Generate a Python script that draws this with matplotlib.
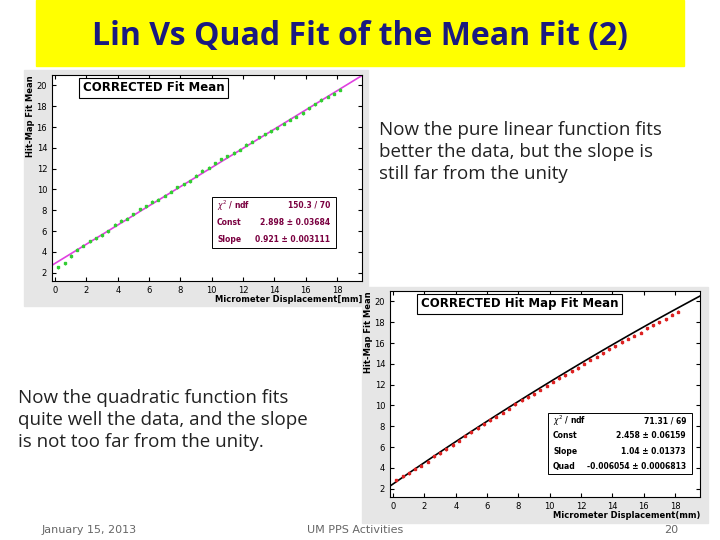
import matplotlib
matplotlib.use("Agg")
import matplotlib.pyplot as plt
import numpy as np
from matplotlib.patches import Rectangle

W, H = 720, 540
x_pts = [0.2,0.6,1.0,1.4,1.8,2.2,2.6,3.0,3.4,3.8,4.2,4.6,5.0,5.4,5.8,6.2,6.6,7.0,7.4,7.8,8.2,8.6,9.0,9.4,9.8,
         10.2,10.6,11.0,11.4,11.8,12.2,12.6,13.0,13.4,13.8,14.2,14.6,15.0,15.4,15.8,16.2,16.6,17.0,17.4,17.8,18.2]
y_lin = [2.5,2.9,3.6,4.2,4.6,5.0,5.3,5.6,6.0,6.6,7.0,7.2,7.6,8.1,8.4,8.8,9.0,9.4,9.8,10.2,10.5,10.8,11.3,11.8,12.1,
         12.5,12.9,13.2,13.5,13.8,14.3,14.6,15.0,15.3,15.6,15.9,16.3,16.7,17.0,17.3,17.8,18.2,18.6,18.9,19.2,19.6]
y_quad = [2.8,3.2,3.5,3.9,4.2,4.6,5.1,5.4,5.8,6.2,6.6,7.1,7.4,7.8,8.2,8.6,8.9,9.3,9.7,10.1,10.5,10.8,11.1,11.5,11.9,
          12.3,12.6,12.9,13.3,13.6,14.0,14.4,14.7,15.0,15.4,15.7,16.1,16.4,16.7,17.0,17.4,17.7,18.0,18.3,18.7,19.0]
lin_const, lin_slope = 2.898, 0.921
q_const, q_slope, q_quad = 2.458, 1.04, -0.006054

fig = plt.figure(figsize=(7.2, 5.4), dpi=100)
def fax(x0, y0, x1, y1, z=0):
    a = fig.add_axes([x0/W, 1-y1/H, (x1-x0)/W, (y1-y0)/H])
    a.set_zorder(z)
    return a

bg = fax(0, 0, W, H); bg.set_xlim(0, W); bg.set_ylim(H, 0); bg.axis('off')
bg.add_patch(Rectangle((36, 0), 648, 66, color='#ffff00'))
bg.text(360, 36, "Lin Vs Quad Fit of the Mean Fit (2)", ha='center', va='center', fontsize=23,
        fontweight='bold', color='#1a1a80', family='Open Sans')
bg.add_patch(Rectangle((24, 70), 344, 236, color='#e6e6e6'))
bg.add_patch(Rectangle((362, 287), 346, 236, color='#e6e6e6'))
bg.text(379, 152, "Now the pure linear function fits\nbetter the data, but the slope is\nstill far from the unity",
        fontsize=13.5, va='center', ha='left', linespacing=1.3, color='#222', family='Open Sans')
bg.text(18, 420, "Now the quadratic function fits\nquite well the data, and the slope\nis not too far from the unity.",
        fontsize=13.5, va='center', ha='left', linespacing=1.3, color='#222', family='Open Sans')
bg.text(42, 530, "January 15, 2013", fontsize=8, color='#666', va='center')
bg.text(355, 530, "UM PPS Activities", fontsize=8, color='#666', va='center', ha='center')
bg.text(678, 530, "20", fontsize=8, color='#666', va='center', ha='right')

def panel(ax, ys, color, lcolor, fx, title, xl, yl):
    ax.set_facecolor('white')
    ax.set_xlim(-0.2, 19.6); ax.set_ylim(1.2, 21)
    xs = np.linspace(-0.2, 19.6, 100)
    ax.plot(xs, fx(xs), color=lcolor, lw=1.2)
    ax.errorbar(x_pts, ys, yerr=0.15, fmt='s', ms=2, color=color, lw=0.6)
    ax.set_xticks(range(0, 19, 2)); ax.set_yticks(range(2, 21, 2))
    ax.tick_params(labelsize=6, length=3, direction='in', top=True, right=True)
    ax.set_xlabel(xl, fontsize=6, fontweight='bold', loc='right', labelpad=0)
    ax.set_ylabel(yl, fontsize=6, fontweight='bold', loc='top', labelpad=1)
    ax.text(0.1, 0.97, title, transform=ax.transAxes, fontsize=8.5, fontweight='bold', va='top',
            bbox=dict(fc='white', ec='black', lw=0.8, boxstyle='square,pad=0.3'))

def statbox(x0, y0, x1, y1, stats, tc):
    ov = fax(0, 0, W, H, z=5); ov.set_xlim(0, W); ov.set_ylim(H, 0); ov.axis('off')
    ov.add_patch(Rectangle((x0, y0), x1-x0, y1-y0, fc='white', ec='black', lw=0.7))
    n = len(stats); dy = (y1-y0)/n
    for i, (a, b) in enumerate(stats):
        yy = y0 + dy*(i+0.5)
        ov.text(x0+5, yy, a, fontsize=5.5, color=tc, va='center', fontweight='bold')
        ov.text(x1-6, yy, b, fontsize=5.5, color=tc, va='center', ha='right', fontweight='bold')

a1 = fax(52, 75, 362, 281, z=1)
panel(a1, y_lin, 'limegreen', '#e040e0', lambda x: lin_const + lin_slope*x, "CORRECTED Fit Mean",
      "Micrometer Displacement[mm]", "Hit-Map Fit Mean")
a2 = fax(390, 291, 700, 497, z=1)
panel(a2, y_quad, '#dd2222', 'black', lambda x: q_const + q_slope*x + q_quad*x**2, "CORRECTED Hit Map Fit Mean",
      "Micrometer Displacement(mm)", "Hit-Map Fit Mean")
statbox(212, 197, 336, 248, [("$\\chi^2$ / ndf", "150.3 / 70"), ("Const", "2.898 ± 0.03684"),
                             ("Slope", "0.921 ± 0.003111")], '#7a0040')
statbox(548, 413, 692, 474, [("$\\chi^2$ / ndf", "71.31 / 69"), ("Const", "2.458 ± 0.06159"),
                             ("Slope", "1.04 ± 0.01373"), ("Quad", "-0.006054 ± 0.0006813")], 'black')
fig.savefig("out.png", dpi=100)
